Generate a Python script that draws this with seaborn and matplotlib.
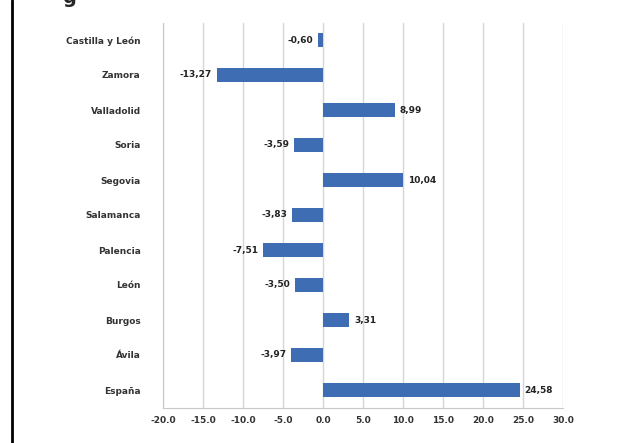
import matplotlib.pyplot as plt
import pandas as pd
import seaborn as sns

# datos (de arriba a abajo)
provincias = ['Castilla y León', 'Zamora', 'Valladolid', 'Soria', 'Segovia',
              'Salamanca', 'Palencia', 'León', 'Burgos', 'Ávila', 'España']
valores = [-0.60, -13.27, 8.99, -3.59, 10.04, -3.83, -7.51, -3.50, 3.31, -3.97, 24.58]
ticks_x = [-20, -15, -10, -5, 0, 5, 10, 15, 20, 25, 30]

df = pd.DataFrame({'provincia': provincias, 'valor': valores})

sns.set_style('white')
plt.rcParams['font.family'] = ['DejaVu Sans']

fig = plt.figure(figsize=(6.4, 4.43), dpi=100)
ax = fig.add_axes([163 / 640, 1 - 407.5 / 443, 400 / 640, 385 / 443])

sns.barplot(data=df, x='valor', y='provincia', orient='h', color='#3F6DB3',
            saturation=1, width=0.38, linewidth=0, ax=ax, zorder=3)

ax.set_xlim(-20, 30)
ax.set_xticks(ticks_x)
ax.set_xticklabels([f'{t:.1f}' for t in ticks_x], fontsize=6.5, color='#333333',
                   fontweight='bold')
ax.tick_params(axis='y', labelsize=6.5, labelcolor='#333333', length=0, pad=16)
ax.tick_params(axis='x', length=0, pad=6)
for lab in ax.get_yticklabels():
    lab.set_fontweight('bold')
ax.set_xlabel('')
ax.set_ylabel('')
ax.grid(axis='x', color='#d6d6d6', linewidth=1, zorder=0)

for s in ['top', 'right']:
    ax.spines[s].set_visible(False)
ax.spines['left'].set_color('#c8c8c8')
ax.spines['bottom'].set_color('#c8c8c8')

# etiquetas de datos
for i, v in enumerate(valores):
    txt = f'{v:.2f}'.replace('.', ',')
    if v < 0:
        ax.text(v - 0.6, i, txt, ha='right', va='center', fontsize=6.5,
                fontweight='bold', color='#222222')
    else:
        ax.text(v + 0.6, i, txt, ha='left', va='center', fontsize=6.5,
                fontweight='bold', color='#222222')

# borde del documento y resto del título cortado
fig.add_artist(plt.Line2D([12 / 640, 12 / 640], [0, 1], color='black',
                          linewidth=2, transform=fig.transFigure))
fig.text(62 / 640, 1.005, 'g', fontsize=14, fontweight='bold', va='center')

fig.savefig('out.png', dpi=100)
